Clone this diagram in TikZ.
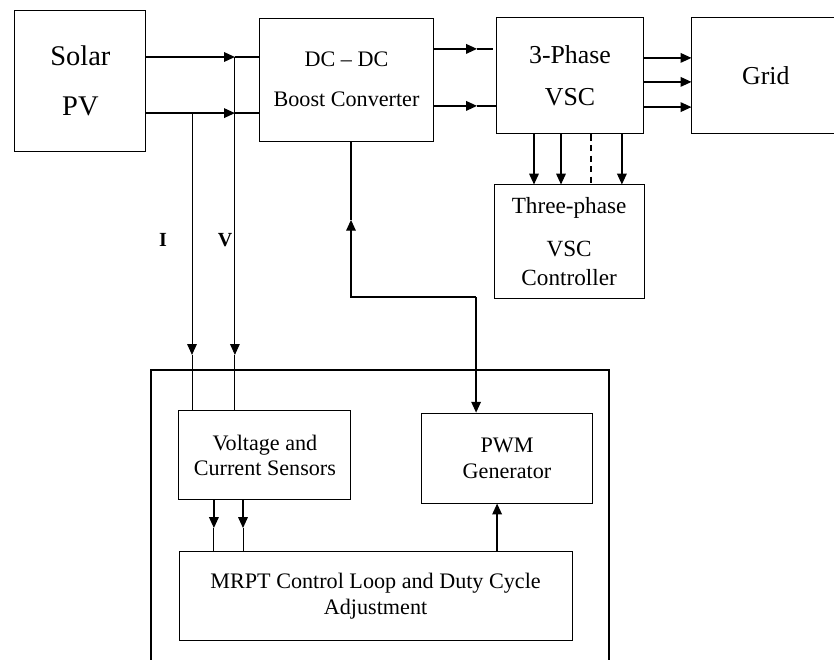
\documentclass[tikz,border=0pt]{standalone}
\usepackage{fontspec}
\setmainfont{Liberation Serif}
\usepackage{tikz}
\usetikzlibrary{arrows.meta, positioning, calc}
\tikzset{
  blk/.style={draw, line width=0.9pt, align=center, inner sep=0pt},
  wire/.style={line width=1.2pt},
  tap/.style={line width=0.8pt},
  tri/.style={-{Triangle[length=3.6mm,width=3.2mm]}},
  txt/.style={font=\fontsize{21}{24.5}\selectfont},
}

\begin{document}
\begin{tikzpicture}
  \useasboundingbox (0,0) rectangle (27.8,-21.97);

  % Power stage
  \node[blk, minimum width=4.37cm, minimum height=4.67cm, font=\fontsize{27}{47}\selectfont] (pv) at (2.68,-2.70) {Solar\\PV};
  \node[blk, minimum width=5.77cm, minimum height=4.10cm, font=\fontsize{21}{38}\selectfont] (dcdc) at (11.55,-2.65) {DC -- DC\\Boost Converter};
  \node[blk, minimum width=4.87cm, minimum height=3.87cm, font=\fontsize{24.5}{40}\selectfont] (vsc) at (19.0,-2.53) {3-Phase\\VSC};
  \node[blk, minimum width=4.93cm, minimum height=3.87cm, font=\fontsize{24.5}{30}\selectfont] (grid) at (25.53,-2.53) {Grid};
  \node[blk, minimum width=5.0cm, minimum height=3.77cm, font=\fontsize{22}{27.4}\selectfont] (vscctrl) at (18.97,-8.05) {Three-phase\\[13pt]VSC\\Controller};

  % Tracking section
  \draw[line width=1.8pt] (5.03,-12.33) rectangle (20.3,-23.5);
  \node[blk, txt, minimum width=5.73cm, minimum height=2.97cm] (sense) at (8.83,-15.18) {Voltage and\\Current Sensors};
  \node[blk, txt, minimum width=5.73cm, minimum height=3.0cm] (pwm) at (16.9,-15.27) {PWM\\Generator};
  \node[blk, txt, minimum width=13.1cm, minimum height=2.97cm] (mrpt) at (12.52,-19.88) {MRPT Control Loop and Duty Cycle\\Adjustment};

  % PV terminals and V / I taps
  \coordinate (vtap) at (7.83,-1.9);
  \coordinate (itip) at (7.83,-3.77);
  \coordinate (itap) at (6.4,-3.77);
  \coordinate (vdrop) at (7.83,-11.83);
  \coordinate (idrop) at (6.4,-11.83);
  \draw[wire, tri] (pv.east |- vtap) -- (vtap);
  \draw[wire] (vtap) -- (dcdc.west |- vtap);
  \draw[wire, tri] (pv.east |- itip) -- (itip);
  \draw[wire] (itip) -- (dcdc.west |- itip);
  \draw[tap, tri] (vtap) -- (vdrop);
  \draw[tap] (vdrop) -- (sense.north -| vdrop);
  \draw[tap, tri] (itap) -- (idrop);
  \draw[tap] (idrop) -- (sense.north -| idrop);
  \node[font=\fontsize{19}{22}\selectfont\bfseries] (ilbl) at (5.43,-8.0) {I};
  \node[font=\fontsize{19}{22}\selectfont\bfseries] (vlbl) at (7.5,-8.0) {V};

  % DC link
  \coordinate (dc1) at (15.9,-1.63);
  \coordinate (dc2) at (15.9,-3.53);
  \draw[wire, tri] (dcdc.east |- dc1) -- (dc1);
  \draw[wire] (dc1) -- ([xshift=-1.3mm]vsc.west |- dc1);
  \draw[wire, tri] (dcdc.east |- dc2) -- (dc2);
  \draw[wire] (dc2) -- (vsc.west |- dc2);

  % AC phases to the grid
  \draw[wire, tri] ([yshift=6mm]vsc.east) -- ([yshift=6mm]vsc.east -| grid.west);
  \draw[wire, tri] ([yshift=-2mm]vsc.east) -- ([yshift=-2mm]vsc.east -| grid.west);
  \draw[wire, tri] ([yshift=-10.4mm]vsc.east) -- ([yshift=-10.4mm]vsc.east -| grid.west);

  % measurements to the VSC controller
  \draw[wire, tri] ([xshift=-12mm]vsc.south) -- ([xshift=-12mm]vsc.south |- vscctrl.north);
  \draw[wire, tri] ([xshift=-3mm]vsc.south) -- ([xshift=-3mm]vsc.south |- vscctrl.north);
  \draw[wire, dash pattern=on 6pt off 4pt] ([xshift=7mm]vsc.south) -- ([xshift=7mm]vsc.south |- vscctrl.north);
  \draw[wire, tri] ([xshift=17.3mm]vsc.south) -- ([xshift=17.3mm]vsc.south |- vscctrl.north);

  % gate signal loop
  \coordinate (pwmin) at (15.87,-9.9);
  \coordinate (fbk) at (11.7,-9.9);
  \coordinate (fbmid) at (11.7,-7.33);
  \draw[wire, tri] (pwmin) -- (pwmin |- pwm.north);
  \draw[wire, tri] (pwmin) -- (fbk) -- (fbmid);
  \draw[wire] (fbmid) -- (fbmid |- dcdc.south);

  % sensors -> MRPT -> PWM
  \coordinate (s1) at (7.13,-17.6);
  \coordinate (s2) at (8.1,-17.6);
  \draw[wire, tri] (s1 |- sense.south) -- (s1);
  \draw[tap] (s1) -- (s1 |- mrpt.north);
  \draw[wire, tri] (s2 |- sense.south) -- (s2);
  \draw[tap] (s2) -- (s2 |- mrpt.north);
  \draw[wire, tri] ([xshift=-3.3mm]pwm.south |- mrpt.north) -- ([xshift=-3.3mm]pwm.south);
\end{tikzpicture}
\end{document}
